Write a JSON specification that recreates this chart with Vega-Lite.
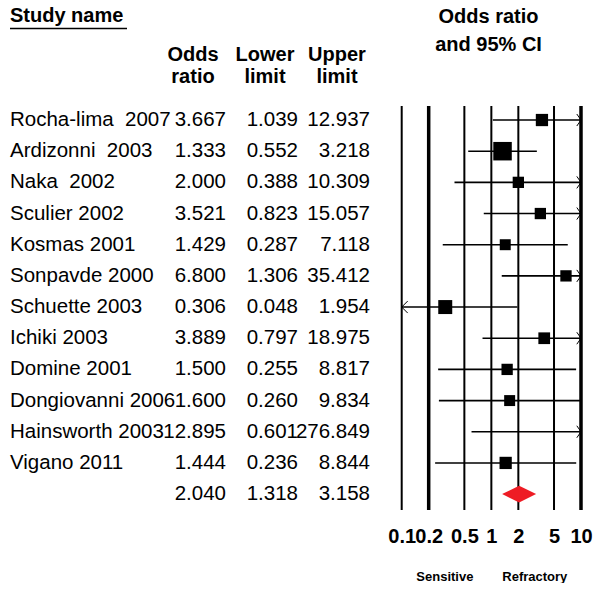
{
  "$schema": "https://vega.github.io/schema/vega-lite/v6.json",
  "width": 601,
  "height": 510,
  "padding": 0,
  "background": "white",
  "config": {
    "view": {"stroke": null},
    "font": "Liberation Sans",
    "axisX": {"labelFontSize": 20, "labelFontWeight": "bold", "labelColor": "black", "labelFont": "Liberation Sans", "ticks": false, "tickSize": 0, "domain": false, "grid": false, "labelPadding": 16, "labelOverlap": false, "labelFlush": false, "labelBound": false, "titleFontSize": 13, "titleFontWeight": "bold", "titleColor": "black", "titleFont": "Liberation Sans", "titlePadding": 24}
  },
  "datasets": {
    "rows": [
      {"row": 0, "study": "Rocha-lima\u00a0 2007", "or": 3.667, "lower": 1.039, "upper": 12.937, "weight": 8.0, "type": "study"},
      {"row": 1, "study": "Ardizonni\u00a0 2003", "or": 1.333, "lower": 0.552, "upper": 3.218, "weight": 18.2, "type": "study"},
      {"row": 2, "study": "Naka\u00a0 2002", "or": 2.000, "lower": 0.388, "upper": 10.309, "weight": 6.8, "type": "study"},
      {"row": 3, "study": "Sculier 2002", "or": 3.521, "lower": 0.823, "upper": 15.057, "weight": 6.8, "type": "study"},
      {"row": 4, "study": "Kosmas 2001", "or": 1.429, "lower": 0.287, "upper": 7.118, "weight": 6.4, "type": "study"},
      {"row": 5, "study": "Sonpavde 2000", "or": 6.800, "lower": 1.306, "upper": 35.412, "weight": 6.8, "type": "study"},
      {"row": 6, "study": "Schuette 2003", "or": 0.306, "lower": 0.048, "upper": 1.954, "weight": 10.4, "type": "study"},
      {"row": 7, "study": "Ichiki 2003", "or": 3.889, "lower": 0.797, "upper": 18.975, "weight": 7.3, "type": "study"},
      {"row": 8, "study": "Domine 2001", "or": 1.500, "lower": 0.255, "upper": 8.817, "weight": 6.8, "type": "study"},
      {"row": 9, "study": "Dongiovanni 2006", "or": 1.600, "lower": 0.260, "upper": 9.834, "weight": 6.4, "type": "study"},
      {"row": 10, "study": "Hainsworth 2003", "or": 12.895, "lower": 0.601, "upper": 276.849, "weight": 5.3, "type": "study"},
      {"row": 11, "study": "Vigano 2011", "or": 1.444, "lower": 0.236, "upper": 8.844, "weight": 8.0, "type": "study"},
      {"row": 12, "study": "", "or": 2.040, "lower": 1.318, "upper": 3.158, "weight": null, "type": "summary"}
    ],
    "grid": [
      {"v": 0.1, "line": "thin"},
      {"v": 0.2, "line": "thick"},
      {"v": 0.5, "line": "thin"},
      {"v": 1, "line": "thin"},
      {"v": 2, "line": "thin"},
      {"v": 5, "line": "thin"},
      {"v": 10, "line": "thick"}
    ],
    "headers": [
      {"col": "or", "l1": "Odds", "l2": "ratio"},
      {"col": "lower", "l1": "Lower", "l2": "limit"},
      {"col": "upper", "l1": "Upper", "l2": "limit"}
    ]
  },
  "layer": [
    {
      "layer": [
        {
          "data": {"values": [{"label": "Study name"}]},
          "mark": {"type": "text", "align": "left", "baseline": "middle", "fontSize": 20, "fontWeight": "bold", "color": "black"},
          "encoding": {
            "text": {"field": "label"},
            "x": {"datum": "study", "type": "nominal", "scale": {"type": "point", "domain": ["study", "p1", "p2", "or", "lower", "upper"], "range": [10, 370], "padding": 0}, "axis": null},
            "y": {"datum": -3.337, "type": "quantitative", "scale": {"domain": [-3.85, 12.51], "reverse": true, "nice": false, "zero": false}, "axis": null}
          }
        },
        {
          "data": {"values": [{"label": "Study name"}]},
          "mark": {"type": "rule", "strokeWidth": 1.5, "color": "black", "x2Offset": 45},
          "encoding": {
            "x": {"datum": "study", "type": "nominal", "scale": {"type": "point", "domain": ["study", "p1", "p2", "or", "lower", "upper"], "range": [10, 370], "padding": 0}, "axis": null},
            "x2": {"datum": "p1"},
            "y": {"datum": -2.935, "type": "quantitative", "scale": {"domain": [-3.85, 12.51], "reverse": true, "nice": false, "zero": false}, "axis": null}
          }
        },
        {
          "data": {"name": "headers"},
          "mark": {"type": "text", "align": "center", "baseline": "middle", "fontSize": 20, "fontWeight": "bold", "color": "black", "dx": -33},
          "encoding": {
            "text": {"field": "l1"},
            "x": {"field": "col", "type": "nominal", "scale": {"type": "point", "domain": ["study", "p1", "p2", "or", "lower", "upper"], "range": [10, 370], "padding": 0}, "axis": null},
            "y": {"datum": -2.085, "type": "quantitative", "scale": {"domain": [-3.85, 12.51], "reverse": true, "nice": false, "zero": false}, "axis": null}
          }
        },
        {
          "data": {"name": "headers"},
          "mark": {"type": "text", "align": "center", "baseline": "middle", "fontSize": 20, "fontWeight": "bold", "color": "black", "dx": -33},
          "encoding": {
            "text": {"field": "l2"},
            "x": {"field": "col", "type": "nominal", "scale": {"type": "point", "domain": ["study", "p1", "p2", "or", "lower", "upper"], "range": [10, 370], "padding": 0}, "axis": null},
            "y": {"datum": -1.38, "type": "quantitative", "scale": {"domain": [-3.85, 12.51], "reverse": true, "nice": false, "zero": false}, "axis": null}
          }
        },
        {
          "data": {"name": "rows"},
          "mark": {"type": "text", "align": "left", "baseline": "middle", "fontSize": 20.5, "color": "black"},
          "encoding": {
            "text": {"field": "study"},
            "x": {"datum": "study", "type": "nominal", "scale": {"type": "point", "domain": ["study", "p1", "p2", "or", "lower", "upper"], "range": [10, 370], "padding": 0}, "axis": null},
            "y": {"field": "row", "type": "quantitative", "scale": {"domain": [-3.85, 12.51], "reverse": true, "nice": false, "zero": false}, "axis": null}
          }
        },
        {
          "data": {"name": "rows"},
          "mark": {"type": "text", "align": "right", "baseline": "middle", "fontSize": 20.5, "color": "black"},
          "encoding": {
            "text": {"field": "or", "type": "quantitative", "format": ".3f"},
            "x": {"datum": "or", "type": "nominal", "scale": {"type": "point", "domain": ["study", "p1", "p2", "or", "lower", "upper"], "range": [10, 370], "padding": 0}, "axis": null},
            "y": {"field": "row", "type": "quantitative", "scale": {"domain": [-3.85, 12.51], "reverse": true, "nice": false, "zero": false}, "axis": null}
          }
        },
        {
          "data": {"name": "rows"},
          "mark": {"type": "text", "align": "right", "baseline": "middle", "fontSize": 20.5, "color": "black"},
          "encoding": {
            "text": {"field": "lower", "type": "quantitative", "format": ".3f"},
            "x": {"datum": "lower", "type": "nominal", "scale": {"type": "point", "domain": ["study", "p1", "p2", "or", "lower", "upper"], "range": [10, 370], "padding": 0}, "axis": null},
            "y": {"field": "row", "type": "quantitative", "scale": {"domain": [-3.85, 12.51], "reverse": true, "nice": false, "zero": false}, "axis": null}
          }
        },
        {
          "data": {"name": "rows"},
          "mark": {"type": "text", "align": "right", "baseline": "middle", "fontSize": 20.5, "color": "black"},
          "encoding": {
            "text": {"field": "upper", "type": "quantitative", "format": ".3f"},
            "x": {"datum": "upper", "type": "nominal", "scale": {"type": "point", "domain": ["study", "p1", "p2", "or", "lower", "upper"], "range": [10, 370], "padding": 0}, "axis": null},
            "y": {"field": "row", "type": "quantitative", "scale": {"domain": [-3.85, 12.51], "reverse": true, "nice": false, "zero": false}, "axis": null}
          }
        }
      ]
    },
    {
      "layer": [
        {
          "data": {"name": "grid"},
          "transform": [{"filter": "datum.line == 'thin'"}],
          "mark": {"type": "rule", "strokeWidth": 2, "color": "black"},
          "encoding": {
            "x": {"field": "v", "type": "quantitative", "title": "Sensitive\u00a0\u00a0\u00a0\u00a0\u00a0\u00a0\u00a0\u00a0Refractory", "scale": {"type": "log", "domain": [0.1, 10], "range": [401.7, 581], "clamp": true, "nice": false}, "axis": {"values": [0.1, 0.2, 0.5, 1, 2, 5, 10], "format": "~g"}},
            "y": {"datum": -0.449, "type": "quantitative", "scale": {"domain": [-3.85, 12.51], "reverse": true, "nice": false, "zero": false}, "axis": null},
            "y2": {"datum": 12.51}
          }
        },
        {
          "data": {"name": "grid"},
          "transform": [{"filter": "datum.line == 'thick'"}],
          "mark": {"type": "rule", "strokeWidth": 3.5, "color": "black"},
          "encoding": {
            "x": {"field": "v", "type": "quantitative", "title": "Sensitive\u00a0\u00a0\u00a0\u00a0\u00a0\u00a0\u00a0\u00a0Refractory", "scale": {"type": "log", "domain": [0.1, 10], "range": [401.7, 581], "clamp": true, "nice": false}, "axis": {"values": [0.1, 0.2, 0.5, 1, 2, 5, 10], "format": "~g"}},
            "y": {"datum": -0.449, "type": "quantitative", "scale": {"domain": [-3.85, 12.51], "reverse": true, "nice": false, "zero": false}, "axis": null},
            "y2": {"datum": 12.51}
          }
        },
        {
          "data": {"name": "rows"},
          "transform": [{"filter": "datum.type == 'study'"}],
          "mark": {"type": "rule", "strokeWidth": 1.6, "color": "black"},
          "encoding": {
            "x": {"field": "lower", "type": "quantitative", "title": "Sensitive\u00a0\u00a0\u00a0\u00a0\u00a0\u00a0\u00a0\u00a0Refractory", "scale": {"type": "log", "domain": [0.1, 10], "range": [401.7, 581], "clamp": true, "nice": false}, "axis": {"values": [0.1, 0.2, 0.5, 1, 2, 5, 10], "format": "~g"}},
            "x2": {"field": "upper"},
            "y": {"field": "row", "type": "quantitative", "scale": {"domain": [-3.85, 12.51], "reverse": true, "nice": false, "zero": false}, "axis": null}
          }
        },
        {
          "data": {"name": "rows"},
          "transform": [{"filter": "datum.type == 'study' && datum.or <= 10"}],
          "mark": {"type": "point", "shape": "square", "filled": true, "color": "black", "opacity": 1, "strokeWidth": 0},
          "encoding": {
            "x": {"field": "or", "type": "quantitative", "title": "Sensitive\u00a0\u00a0\u00a0\u00a0\u00a0\u00a0\u00a0\u00a0Refractory", "scale": {"type": "log", "domain": [0.1, 10], "range": [401.7, 581], "clamp": true, "nice": false}, "axis": {"values": [0.1, 0.2, 0.5, 1, 2, 5, 10], "format": "~g"}},
            "y": {"field": "row", "type": "quantitative", "scale": {"domain": [-3.85, 12.51], "reverse": true, "nice": false, "zero": false}, "axis": null},
            "size": {"field": "weight", "type": "quantitative", "scale": {"domain": [0, 20], "range": [0, 376], "zero": true}, "legend": null}
          }
        },
        {
          "data": {"name": "rows"},
          "transform": [{"filter": "datum.lower < 0.1"}],
          "mark": {"type": "point", "shape": "M1,-1L0,0L1,1", "filled": false, "stroke": "black", "strokeWidth": 1, "opacity": 1, "size": 144},
          "encoding": {
            "x": {"field": "lower", "type": "quantitative", "title": "Sensitive\u00a0\u00a0\u00a0\u00a0\u00a0\u00a0\u00a0\u00a0Refractory", "scale": {"type": "log", "domain": [0.1, 10], "range": [401.7, 581], "clamp": true, "nice": false}, "axis": {"values": [0.1, 0.2, 0.5, 1, 2, 5, 10], "format": "~g"}},
            "y": {"field": "row", "type": "quantitative", "scale": {"domain": [-3.85, 12.51], "reverse": true, "nice": false, "zero": false}, "axis": null}
          }
        },
        {
          "data": {"name": "rows"},
          "transform": [{"filter": "datum.upper > 10"}],
          "mark": {"type": "point", "shape": "M-0.7,-1L0,0L-0.7,1", "filled": false, "stroke": "black", "strokeWidth": 1, "opacity": 1, "size": 144},
          "encoding": {
            "x": {"field": "upper", "type": "quantitative", "title": "Sensitive\u00a0\u00a0\u00a0\u00a0\u00a0\u00a0\u00a0\u00a0Refractory", "scale": {"type": "log", "domain": [0.1, 10], "range": [401.7, 581], "clamp": true, "nice": false}, "axis": {"values": [0.1, 0.2, 0.5, 1, 2, 5, 10], "format": "~g"}},
            "y": {"field": "row", "type": "quantitative", "scale": {"domain": [-3.85, 12.51], "reverse": true, "nice": false, "zero": false}, "axis": null}
          }
        },
        {
          "data": {"name": "rows"},
          "transform": [{"filter": "datum.type == 'summary'"}],
          "mark": {"type": "point", "shape": "M-1,0L0,-0.49L1,0L0,0.49Z", "filled": true, "color": "#ee1c24", "opacity": 1, "strokeWidth": 0, "size": 1156},
          "encoding": {
            "x": {"field": "or", "type": "quantitative", "title": "Sensitive\u00a0\u00a0\u00a0\u00a0\u00a0\u00a0\u00a0\u00a0Refractory", "scale": {"type": "log", "domain": [0.1, 10], "range": [401.7, 581], "clamp": true, "nice": false}, "axis": {"values": [0.1, 0.2, 0.5, 1, 2, 5, 10], "format": "~g"}},
            "y": {"field": "row", "type": "quantitative", "scale": {"domain": [-3.85, 12.51], "reverse": true, "nice": false, "zero": false}, "axis": null}
          }
        },
        {
          "data": {"values": [{"label": "Odds ratio"}]},
          "mark": {"type": "text", "align": "center", "baseline": "middle", "fontSize": 20, "fontWeight": "bold", "color": "black"},
          "encoding": {
            "text": {"field": "label"},
            "x": {"datum": 0.93, "type": "quantitative", "title": "Sensitive\u00a0\u00a0\u00a0\u00a0\u00a0\u00a0\u00a0\u00a0Refractory", "scale": {"type": "log", "domain": [0.1, 10], "range": [401.7, 581], "clamp": true, "nice": false}, "axis": {"values": [0.1, 0.2, 0.5, 1, 2, 5, 10], "format": "~g"}},
            "y": {"datum": -3.315, "type": "quantitative", "scale": {"domain": [-3.85, 12.51], "reverse": true, "nice": false, "zero": false}, "axis": null}
          }
        },
        {
          "data": {"values": [{"label": "and 95% CI"}]},
          "mark": {"type": "text", "align": "center", "baseline": "middle", "fontSize": 20, "fontWeight": "bold", "color": "black"},
          "encoding": {
            "text": {"field": "label"},
            "x": {"datum": 0.93, "type": "quantitative", "title": "Sensitive\u00a0\u00a0\u00a0\u00a0\u00a0\u00a0\u00a0\u00a0Refractory", "scale": {"type": "log", "domain": [0.1, 10], "range": [401.7, 581], "clamp": true, "nice": false}, "axis": {"values": [0.1, 0.2, 0.5, 1, 2, 5, 10], "format": "~g"}},
            "y": {"datum": -2.406, "type": "quantitative", "scale": {"domain": [-3.85, 12.51], "reverse": true, "nice": false, "zero": false}, "axis": null}
          }
        }
      ]
    }
  ],
  "resolve": {"scale": {"x": "independent"}, "axis": {"x": "independent"}}
}
